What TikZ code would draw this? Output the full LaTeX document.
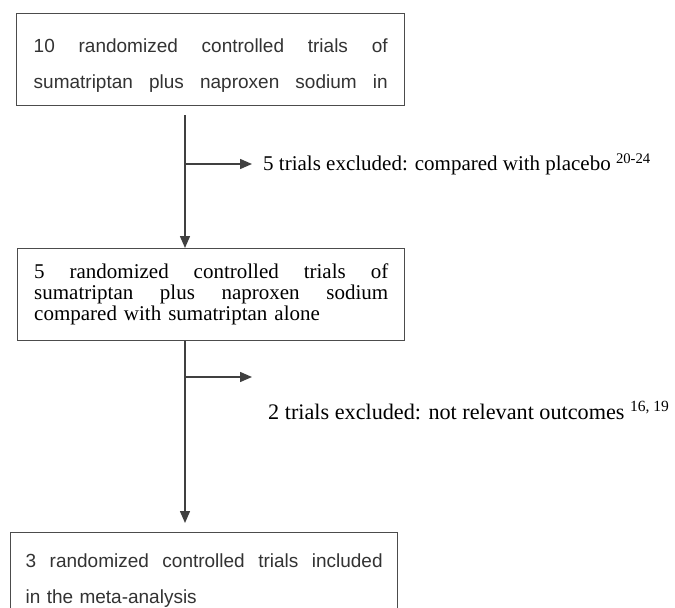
\documentclass[tikz,border=0pt]{standalone}
\usepackage{fontspec}
\setmainfont{Liberation Serif}
\newfontfamily\boxsans{Liberation Sans}
\usetikzlibrary{arrows.meta}
\newcommand{\spreadline}[2]{\makebox[#1][s]{\spaceskip=0.28em plus 1fil\relax #2}}
\newcommand{\tallstrut}{\rule[-7bp]{0pt}{36bp}}

\begin{document}
\begin{tikzpicture}[x=1bp,y=-1bp,
    boxline/.style={draw=black!70, line width=1.4bp},
    sansbox/.style={boxline, anchor=north west, align=left, text=black!80,
        font=\boxsans\fontsize{19bp}{36bp}\selectfont, inner ysep=10bp},
    serifbox/.style={boxline, anchor=north west, align=left,
        font=\fontsize{21bp}{21bp}\selectfont, minimum height=92bp},
    excluded/.style={anchor=base west, inner sep=0pt, font=\fontsize{21bp}{24bp}\selectfont},
    flowarrow/.style={draw=black!75, line width=1.5bp, -{Triangle[length=12bp,width=10bp]}}]
        \useasboundingbox (0,0) rectangle (675,608);
        \fill[white] (0,0) rectangle (675,608);
        \clip (0,0) rectangle (675,608);

        % Boxes of trials
        \node[sansbox, text width=354bp, inner xsep=17bp] (ten) at (16,13)
            {\spreadline{354bp}{\tallstrut 10 randomized controlled trials of}\\
             \spreadline{354bp}{\tallstrut sumatriptan plus naproxen sodium in}};
        \node[serifbox, text width=354bp, inner xsep=16.5bp] (five) at (17,248)
            {\spreadline{354bp}{5 randomized controlled trials of}\\
             \spreadline{354bp}{sumatriptan plus naproxen sodium}\\
             compared with sumatriptan alone};
        \node[sansbox, text width=357bp, inner xsep=15bp, inner ysep=6bp] (three) at (10,532)
            {\spreadline{357bp}{\tallstrut 3 randomized controlled trials included}\\
             \tallstrut in the meta-analysis};

        % Exclusions
        \node[excluded] (excl1) at (263,171) {5 trials excluded: compared with placebo \textsuperscript{20-24}};
        \node[excluded, font=\fontsize{22.2bp}{24bp}\selectfont] (excl2) at (268,419)
            {2 trials excluded: not relevant outcomes \textsuperscript{16, 19}};

        % Flow arrows
        \coordinate (split1) at (185,164);
        \coordinate (tip1) at (252,164);
        \coordinate (split2) at (185,377);
        \coordinate (tip2) at (252,377);
        \draw[flowarrow] ([yshift=-9bp]ten.south -| split1) -- (five.north -| split1);
        \draw[flowarrow] (split1) -- (tip1);
        \draw[flowarrow] (five.south -| split2) -- ([yshift=9bp]three.north -| split2);
        \draw[flowarrow] (split2) -- (tip2);
    \end{tikzpicture}
\end{document}
